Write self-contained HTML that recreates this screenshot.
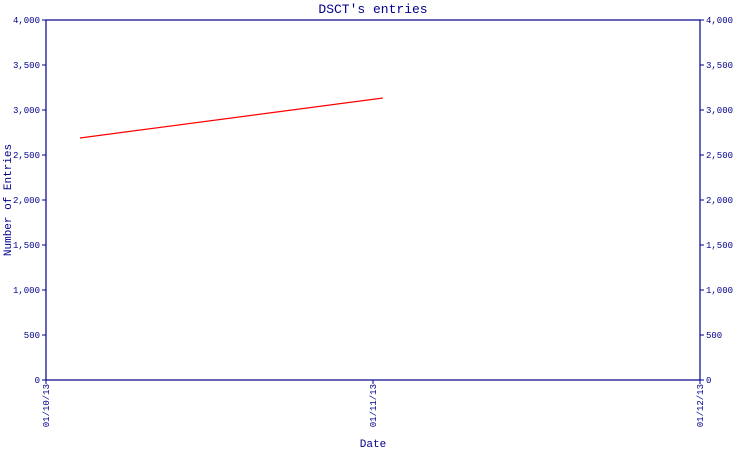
<!DOCTYPE html>
<html><head><meta charset="utf-8"><style>
body{margin:0;background:#fff}
svg text{font-family:"Liberation Mono","DejaVu Sans Mono",monospace;fill:#00008b}
</style></head><body>
<svg width="750" height="450">
<text x="373" y="13" font-size="13" text-anchor="middle">DSCT's entries</text>
<rect x="46" y="20" width="654" height="360" fill="none" stroke="#00008b" stroke-width="1.2"/>
<g id="yl"></g>
<g id="yr"></g>
<g id="xa"></g>
<g id="series"></g>
<text transform="translate(11,200) rotate(-90)" font-size="11" text-anchor="middle">Number of Entries</text>
<text x="373" y="447" font-size="11" text-anchor="middle">Date</text>
</svg>
<script>
const yTicks=[0,500,1000,1500,2000,2500,3000,3500,4000];
const yTickLabels=["0","500","1,000","1,500","2,000","2,500","3,000","3,500","4,000"];
const xTicks=[0,1,2];
const xTickLabels=["01/10/13","01/11/13","01/12/13"];
const seriesX=[0.104,1.03];
const seriesY=[2689,3133];
const NS="http://www.w3.org/2000/svg";
const X0=46,X1=700,Y0=380,Y1=20;
const xs=v=>X0+(v-0)/(2-0)*(X1-X0);
const ys=v=>Y0-(v/4000)*(Y0-Y1);
function mk(t,a,p){const e=document.createElementNS(NS,t);for(const k in a)e.setAttribute(k,a[k]);p.appendChild(e);return e;}
const yl=document.getElementById('yl'),yr=document.getElementById('yr'),xa=document.getElementById('xa');
yTicks.forEach((v,i)=>{
 const y=ys(v);
 const t1=mk('line',{x1:X0-4,x2:X0,y1:y,y2:y,stroke:'#00008b'},yl);
 
 
 const l1=mk('text',{x:X0-6,y:y+3,'font-size':9,'text-anchor':'end'},yl);l1.textContent=yTickLabels[i];
 
 
 const t2=mk('line',{x1:X1,x2:X1+4,y1:y,y2:y,stroke:'#00008b'},yr);
 
 
 const l2=mk('text',{x:X1+6,y:y+3,'font-size':9},yr);l2.textContent=yTickLabels[i];
 
 
});
xTicks.forEach((v,i)=>{
 const x=xs(v);
 const t=mk('line',{x1:x,x2:x,y1:Y0,y2:Y0+4,stroke:'#00008b'},xa);
 
 
 const l=mk('text',{transform:`translate(${x+3},${Y0+4}) rotate(-90)`,'font-size':9,'text-anchor':'end'},xa);l.textContent=xTickLabels[i];
 
 
});
const pts=seriesX.map((v,i)=>xs(v)+','+ys(seriesY[i])).join(' ');
const pl=mk('polyline',{points:pts,fill:'none',stroke:'#ff0000','stroke-width':1.2},document.getElementById('series'));


</script>
</body></html>
